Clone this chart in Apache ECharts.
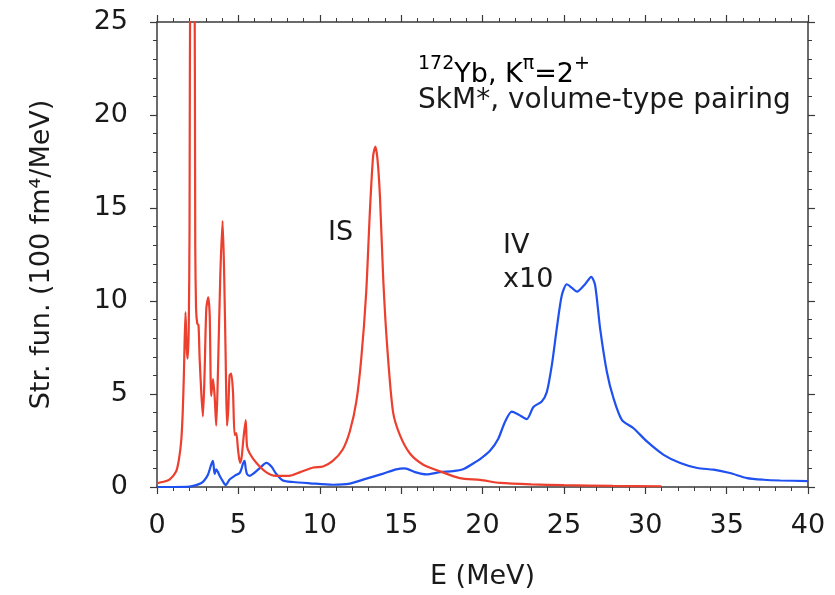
<!DOCTYPE html>
<html>
<head>
<meta charset="utf-8">
<script src="https://cdn.jsdelivr.net/npm/echarts@6/dist/echarts.min.js"></script>
<style>
html,body{margin:0;padding:0;background:#fff;}
#chart{width:835px;height:595px;}
</style>
</head>
<body>
<div id="chart"></div>
<script>
// Isoscalar (IS) strength function: energy (MeV) and value
const isE = [0, 0.4, 0.77, 1.18, 1.35, 1.49, 1.58, 1.65, 1.75, 1.82, 1.88, 1.95, 2.0, 2.05, 2.18, 2.3, 2.35, 2.4, 2.47, 2.55, 2.62, 2.72, 2.82, 2.92, 3.03, 3.15, 3.24, 3.33, 3.44, 3.54, 3.64, 3.74, 3.89, 4.03, 4.13, 4.22, 4.3, 4.38, 4.46, 4.56, 4.67, 4.77, 4.87, 4.98, 5.1, 5.2, 5.3, 5.45, 5.53, 5.7, 6.1, 6.7, 7.3, 8.1, 8.8, 9.6, 10.2, 10.8, 11.4, 11.85, 12.25, 12.55, 12.85, 13.08, 13.28, 13.42, 13.55, 13.7, 13.9, 14.14, 14.5, 14.92, 15.54, 16.36, 17.4, 18.6, 19.85, 21.1, 23, 25, 28, 31];
const isV = [0.2, 0.28, 0.4, 0.85, 1.5, 2.5, 4.0, 6.0, 9.4, 7.5, 6.9, 8.5, 14, 30, 34, 30, 13, 9.6, 8.8, 8.7, 6.9, 5.1, 3.8, 6.0, 9.6, 10.2, 9.2, 4.9, 5.8, 4.9, 3.3, 6.0, 11.4, 14.3, 11.3, 6.9, 3.3, 4.2, 6.0, 6.1, 5.1, 2.8, 2.9, 2.0, 1.3, 1.6, 2.5, 3.6, 2.2, 1.8, 1.3, 0.8, 0.6, 0.6, 0.8, 1.05, 1.1, 1.4, 2.0, 3.0, 4.6, 6.9, 10.4, 14.8, 17.8, 18.3, 17.6, 15.6, 11.2, 7.6, 4.05, 2.8, 1.8, 1.2, 0.84, 0.48, 0.38, 0.22, 0.14, 0.1, 0.06, 0.04];

// Isovector (IV) strength function x10
const ivE = [0, 1.0, 2.0, 2.4, 2.7, 2.9, 3.13, 3.33, 3.44, 3.54, 3.64, 3.75, 3.85, 4.05, 4.21, 4.35, 4.46, 4.77, 5.08, 5.2, 5.28, 5.38, 5.45, 5.53, 5.7, 5.9, 6.3, 6.72, 7.03, 7.33, 7.74, 8.36, 9.4, 10.8, 11.85, 12.87, 13.9, 14.7, 15.23, 15.85, 16.56, 17.4, 18.2, 18.8, 19.4, 19.85, 20.46, 20.97, 21.38, 21.8, 22.2, 22.72, 23.13, 23.64, 23.95, 24.26, 24.56, 24.87, 25.18, 25.5, 25.8, 26.3, 26.68, 26.92, 27.23, 27.64, 28.05, 28.57, 29.28, 30.1, 31.13, 32.15, 33.2, 34.2, 35.2, 36.26, 37.28, 38.3, 40];
const ivV = [0, 0, 0.02, 0.1, 0.2, 0.35, 0.66, 1.2, 1.4, 0.7, 0.95, 0.8, 0.6, 0.3, 0.1, 0.25, 0.4, 0.6, 0.75, 1.0, 1.25, 1.4, 1.0, 0.7, 0.6, 0.7, 1.0, 1.3, 1.1, 0.7, 0.35, 0.27, 0.2, 0.12, 0.18, 0.45, 0.72, 0.95, 1.0, 0.8, 0.68, 0.8, 0.85, 0.95, 1.25, 1.5, 1.95, 2.6, 3.5, 4.05, 3.9, 3.65, 4.3, 4.6, 5.1, 6.55, 8.5, 10.3, 10.9, 10.7, 10.5, 10.9, 11.3, 10.85, 8.5, 6.2, 4.77, 3.6, 3.16, 2.45, 1.73, 1.29, 1.02, 0.93, 0.75, 0.48, 0.39, 0.35, 0.32];

const xTicks = [0, 5, 10, 15, 20, 25, 30, 35, 40];
const yTicks = [0, 5, 10, 15, 20, 25];

const FONT = 'DejaVu Sans';
const RED = '#ec3f2e';
const BLUE = '#1f50f0';
const AX = '#3a3a3a';

const zip = (a, b) => a.map((v, i) => [v, b[i]]);

function axisBase() {
  return {
    type: 'value',
    axisLine: { show: true, onZero: false, lineStyle: { color: AX, width: 1.5 } },
    axisTick: { show: true, inside: false, length: 7, lineStyle: { color: AX, width: 1.2 } },
    minorTick: { show: true, splitNumber: 5, length: 4, lineStyle: { color: AX, width: 1 } },
    splitLine: { show: false },
    minorSplitLine: { show: false }
  };
}

const chart = echarts.init(document.getElementById('chart'), null, { renderer: 'canvas' });
chart.setOption({
  backgroundColor: '#fff',
  animation: false,
  grid: { left: 157, right: 27, top: 22, bottom: 106 },
  xAxis: [
    Object.assign(axisBase(), {
      position: 'bottom', min: xTicks[0], max: xTicks[xTicks.length - 1], interval: 5,
      name: 'E (MeV)', nameLocation: 'middle', nameGap: 76,
      nameTextStyle: { fontFamily: FONT, fontSize: 27, color: '#1a1a1a' },
      axisLabel: { show: true, margin: 25, fontFamily: FONT, fontSize: 27, color: '#1a1a1a' }
    }),
    Object.assign(axisBase(), {
      position: 'top', min: xTicks[0], max: xTicks[xTicks.length - 1], interval: 5,
      axisLabel: { show: false }
    })
  ],
  yAxis: [
    Object.assign(axisBase(), {
      position: 'left', min: yTicks[0], max: yTicks[yTicks.length - 1], interval: 5,
      name: 'Str. fun. (100 fm\u2074/MeV)', nameLocation: 'middle', nameGap: 102,
      nameTextStyle: { fontFamily: FONT, fontSize: 27, color: '#1a1a1a' },
      axisLabel: { show: true, margin: 29, fontFamily: FONT, fontSize: 27, color: '#1a1a1a' }
    }),
    Object.assign(axisBase(), {
      position: 'right', min: yTicks[0], max: yTicks[yTicks.length - 1], interval: 5,
      axisLabel: { show: false }
    })
  ],
  series: [
    {
      name: 'IV x10', type: 'line', xAxisIndex: 0, yAxisIndex: 0,
      data: zip(ivE, ivV), showSymbol: false, smooth: 0.25, clip: true,
      lineStyle: { color: BLUE, width: 2.2 }
    },
    {
      name: 'IS', type: 'line', xAxisIndex: 0, yAxisIndex: 0,
      data: zip(isE, isV), showSymbol: false, smooth: 0.25, clip: true,
      lineStyle: { color: RED, width: 2.2 }
    }
  ],
  graphic: [
    {
      type: 'text', left: 418, top: 55, z: 10,
      style: {
        text: '{s|172}{n|Yb, K}{s|\u03c0}{n|=2}{s|+}',
        rich: {
          n: { fontFamily: FONT, fontSize: 27, lineHeight: 40, verticalAlign: 'middle', color: '#1a1a1a' },
          s: { fontFamily: FONT, fontSize: 19, lineHeight: 11, verticalAlign: 'top', color: '#1a1a1a' }
        }
      }
    },
    {
      type: 'text', z: 10,
      style: { x: 418, y: 101, text: 'SkM*, volume-type pairing', fontFamily: FONT, fontSize: 28, fill: '#1a1a1a', verticalAlign: 'middle', align: 'left' }
    },
    {
      type: 'text', z: 10,
      style: { x: 328, y: 233, text: 'IS', fontFamily: FONT, fontSize: 27, fill: '#1a1a1a', verticalAlign: 'middle', align: 'left' }
    },
    {
      type: 'text', z: 10,
      style: { x: 503, y: 246, text: 'IV', fontFamily: FONT, fontSize: 27, fill: '#1a1a1a', verticalAlign: 'middle', align: 'left' }
    },
    {
      type: 'text', z: 10,
      style: { x: 503, y: 280, text: 'x10', fontFamily: FONT, fontSize: 27, fill: '#1a1a1a', verticalAlign: 'middle', align: 'left' }
    }
  ]
});
</script>
</body>
</html>
